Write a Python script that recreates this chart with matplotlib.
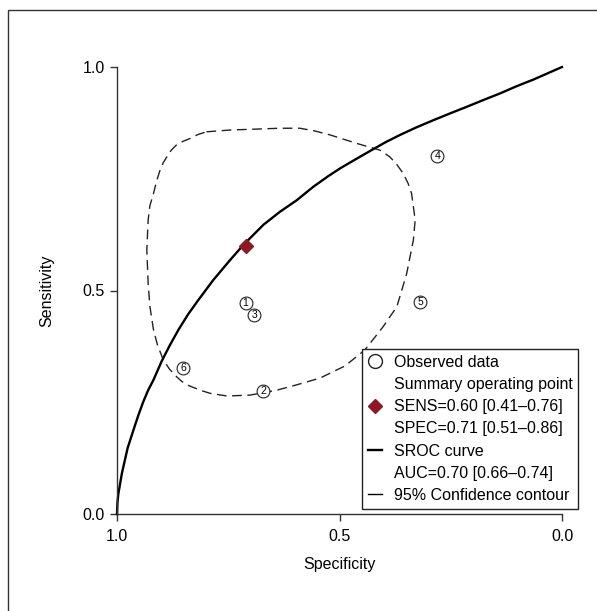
import matplotlib
matplotlib.use('Agg')
import matplotlib.pyplot as plt
from matplotlib.lines import Line2D
from matplotlib.patches import Rectangle

plt.rcParams['font.family'] = ['Liberation Sans', 'DejaVu Sans']

# observed studies (specificity, sensitivity)
study_ids = ['1', '2', '3', '4', '5', '6']
study_spec = [0.711, 0.671, 0.692, 0.280, 0.319, 0.851]
study_sens = [0.471, 0.275, 0.445, 0.802, 0.475, 0.326]

# summary operating point
sum_spec = 0.71
sum_sens = 0.60

# SROC curve
sroc_spec = [1.0, 0.999, 0.997, 0.993, 0.989, 0.984, 0.976, 0.963, 0.952, 0.941,
             0.930, 0.918, 0.900, 0.881, 0.862, 0.840, 0.817, 0.784, 0.746, 0.716,
             0.671, 0.634, 0.596, 0.559, 0.525, 0.499, 0.463, 0.428, 0.396, 0.364,
             0.327, 0.289, 0.252, 0.214, 0.177, 0.139, 0.102, 0.064, 0.032, 0.0]
sroc_sens = [0.0, 0.025, 0.045, 0.068, 0.091, 0.113, 0.148, 0.188, 0.221, 0.251,
             0.277, 0.300, 0.341, 0.378, 0.412, 0.447, 0.479, 0.523, 0.568, 0.602,
             0.647, 0.676, 0.702, 0.732, 0.756, 0.773, 0.794, 0.814, 0.832, 0.848,
             0.865, 0.881, 0.896, 0.911, 0.926, 0.941, 0.957, 0.972, 0.986, 1.0]

# 95% confidence contour
cont_spec = [0.799, 0.746, 0.634, 0.589, 0.556, 0.521, 0.461, 0.409, 0.387, 0.372,
             0.357, 0.346, 0.338, 0.330, 0.334, 0.349, 0.371, 0.402, 0.443, 0.488,
             0.544, 0.596, 0.641, 0.701, 0.753, 0.791, 0.813, 0.843, 0.855, 0.866,
             0.882, 0.896, 0.909, 0.918, 0.926, 0.930, 0.933, 0.930, 0.926, 0.918,
             0.911, 0.903, 0.896, 0.888, 0.878, 0.866, 0.851, 0.836, 0.818, 0.799]
cont_sens = [0.855, 0.859, 0.863, 0.863, 0.857, 0.848, 0.829, 0.814, 0.799, 0.783,
             0.762, 0.740, 0.717, 0.658, 0.613, 0.538, 0.464, 0.419, 0.367, 0.331,
             0.304, 0.289, 0.277, 0.266, 0.264, 0.270, 0.277, 0.289, 0.297, 0.307,
             0.324, 0.345, 0.378, 0.412, 0.464, 0.516, 0.591, 0.658, 0.690, 0.717,
             0.745, 0.770, 0.786, 0.799, 0.814, 0.826, 0.834, 0.840, 0.849, 0.855]

legend_labels = ['Observed data', 'Summary operating point',
                 'SENS=0.60 [0.41\u20130.76]', 'SPEC=0.71 [0.51\u20130.86]',
                 'SROC curve', 'AUC=0.70 [0.66\u20130.74]', '95% Confidence contour']

fig = plt.figure(figsize=(5.97, 6.11), dpi=100)
ax = fig.add_axes([117 / 597, 97 / 611, 445 / 597, 447 / 611])

# outer frame of the figure panel
fig.patches.append(Rectangle((8 / 597, -0.05), 1.2, 1 - 10 / 611 + 0.05,
                             transform=fig.transFigure, fill=False,
                             edgecolor='#333333', linewidth=1.0))

ax.plot(cont_spec, cont_sens, color='#222222', lw=1.0, linestyle=(0, (7, 4)))
ax.plot(sroc_spec, sroc_sens, color='black', lw=1.7, clip_on=False,
        solid_joinstyle='round')
ax.scatter(study_spec, study_sens, s=85, facecolors='white', edgecolors='#222222',
           linewidths=0.8, zorder=3)
for sid, sx, sy in zip(study_ids, study_spec, study_sens):
    ax.text(sx, sy, sid, ha='center', va='center', fontsize=7.5, zorder=4)
ax.plot([sum_spec], [sum_sens], marker='D', color='#8b1a24', markersize=7,
        linestyle='none', zorder=5)

ax.set_xlim(1.0, 0.0)
ax.set_ylim(0.0, 1.0)
ax.set_xticks([1.0, 0.5, 0.0])
ax.set_yticks([0.0, 0.5, 1.0])
ax.set_xticklabels(['1.0', '0.5', '0.0'])
ax.set_yticklabels(['0.0', '0.5', '1.0'])
ax.spines['top'].set_visible(False)
ax.spines['right'].set_visible(False)
for s in ['left', 'bottom']:
    ax.spines[s].set_linewidth(1.0)
    ax.spines[s].set_color('#333333')
ax.tick_params(direction='out', length=5, width=1.0, labelsize=11.5, pad=4,
               color='#333333')
ax.tick_params(axis='x', pad=6)
ax.set_xlabel('Specificity', fontsize=11.5, labelpad=9)
ax.set_ylabel('Sensitivity', fontsize=11.5, labelpad=20)

blank = Line2D([], [], linestyle='none', marker='')
handles = [
    Line2D([], [], linestyle='none', marker='o', markersize=10,
           markerfacecolor='white', markeredgecolor='#222222'),
    blank,
    Line2D([], [], linestyle='none', marker='D', markersize=7, color='#8b1a24'),
    blank,
    Line2D([], [], color='black', lw=1.7),
    blank,
    Line2D([], [], color='black', lw=1.0),
]
leg = ax.legend(handles, legend_labels, loc='lower right',
                bbox_to_anchor=(1.036, 0.012), borderaxespad=0,
                fontsize=11.5, handlelength=0.9, handletextpad=0.7,
                labelspacing=0.45, borderpad=0.35, fancybox=False,
                edgecolor='#222222', framealpha=1)
leg.get_frame().set_linewidth(1.0)

fig.savefig('out.png', dpi=100)
